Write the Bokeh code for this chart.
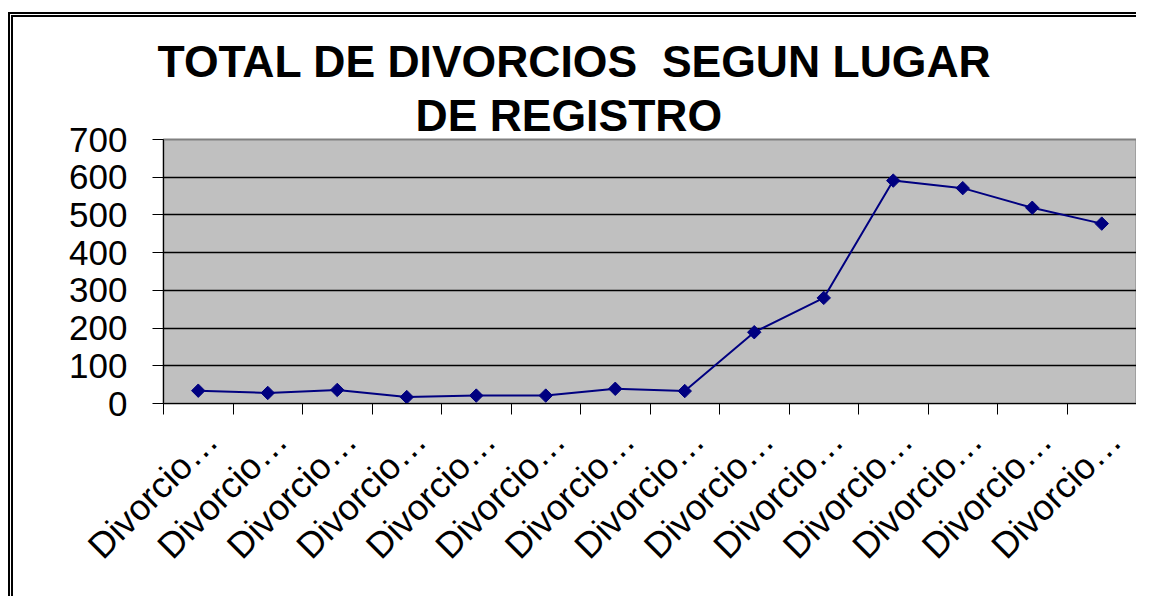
import math
from bokeh.plotting import figure
from bokeh.models import (Range1d, LinearAxis, FixedTicker, Title)
from bokeh.embed import file_html
from bokeh.resources import INLINE

# ---- data ----
title_line1 = "TOTAL DE DIVORCIOS\u00a0 SEGUN LUGAR"
title_line2 = "DE REGISTRO"
categories = ["Divorcio…"] * 14
values = [34, 28, 36, 17, 21, 21, 39, 33, 189, 280, 591, 571, 519, 477]
y_ticks = [0, 100, 200, 300, 400, 500, 600, 700]

FONT = "Liberation Sans"
n = len(categories)
xs = [i + 0.5 for i in range(n)]

# content box starts at page (13, 17)
W, H = 1128, 584
p = figure(width=W, height=H, output_backend="svg", toolbar_location=None,
           x_range=Range1d(0, n), y_range=Range1d(0, 700),
           min_border_left=150, min_border_right=5,
           min_border_top=122, min_border_bottom=198)
p.title.visible = False
p.styles = {"border-left": "5px double black", "border-top": "5px double black",
            "margin-top": "12px", "margin-left": "8px"}
p.background_fill_color = "#C0C0C0"
p.border_fill_color = "white"
p.outline_line_color = "#808080"
p.outline_line_width = 2

# y axis
ya = p.yaxis[0]
ya.ticker = FixedTicker(ticks=y_ticks)
ya.major_label_text_font = FONT
ya.major_label_text_font_size = "35px"
ya.major_label_text_color = "black"
ya.major_tick_out = 11
ya.major_tick_in = 0
ya.minor_tick_line_color = None
ya.major_label_standoff = 25
ya.axis_line_color = "black"
ya.major_tick_line_color = "black"

p.ygrid.ticker = FixedTicker(ticks=y_ticks)
p.ygrid.grid_line_color = "black"
p.ygrid.grid_line_width = 1.3
p.xgrid.visible = False

# x axis with ticks at category boundaries
xa = p.xaxis[0]
xa.ticker = FixedTicker(ticks=list(range(n + 1)))
xa.major_label_overrides = {i: "" for i in range(n + 1)}
xa.major_label_text_font_size = "1px"
xa.major_label_standoff = 0
xa.major_tick_out = 11
xa.major_tick_in = 0
xa.minor_tick_line_color = None
xa.axis_line_color = "black"
xa.major_tick_line_color = "black"

# label axis (rotated labels)
shift = 0.19
lab_ticks = [i + 0.5 + shift for i in range(n)]
la = LinearAxis(ticker=FixedTicker(ticks=lab_ticks),
                major_label_overrides={t: c for t, c in zip(lab_ticks, categories)})
la.major_label_orientation = math.pi / 4
la.major_label_text_font = FONT
la.major_label_text_font_size = "36px"
la.major_label_text_color = "black"
la.major_label_standoff = 20
la.major_tick_out = 0
la.major_tick_in = 0
la.minor_tick_line_color = None
la.axis_line_color = None
la.major_tick_line_color = None
p.add_layout(la, "below")

# series
p.line(xs, values, line_color="#000080", line_width=2)
p.scatter(xs, values, marker="square", angle=math.pi / 4, size=9.5,
          fill_color="#000080", line_color="#000080")

# title (two lines, nearest to frame first)
t2 = Title(text=title_line2, align="left", offset=252, standoff=0,
           text_font=FONT, text_font_style="bold", text_font_size="44.5px",
           text_color="black")
t1 = Title(text=title_line1, align="left", offset=-6, standoff=6,
           text_font=FONT, text_font_style="bold", text_font_size="44.5px",
           text_color="black")
p.add_layout(t2, "above")
p.add_layout(t1, "above")

open("out.html", "w").write(file_html(p, INLINE))
